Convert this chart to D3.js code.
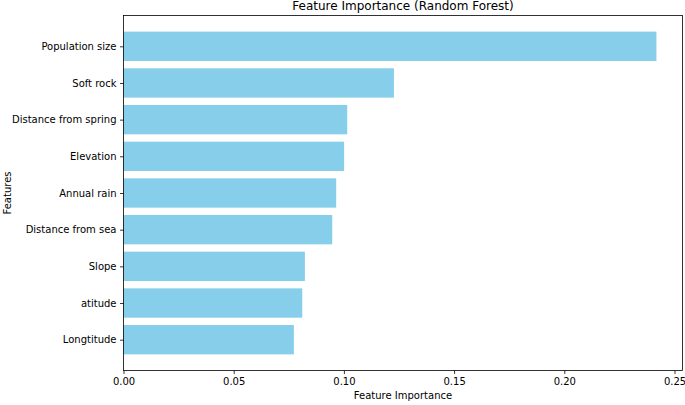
<!DOCTYPE html>
<html><head><meta charset="utf-8">
<script src="https://cdn.jsdelivr.net/npm/d3@7"></script>
<style>body{margin:0;background:#fff}svg{display:block;font-family:"DejaVu Sans",sans-serif}</style>
</head><body><svg id="c" width="685" height="405"></svg>
<script>
const features = ["Population size","Soft rock","Distance from spring","Elevation","Annual rain","Distance from sea","Slope","atitude","Longtitude"];
const importances = [0.2418,0.1227,0.1015,0.1001,0.0965,0.0947,0.0823,0.0811,0.0773];
const xTicks = [0,0.05,0.10,0.15,0.20,0.25];

const svg = d3.select("#c");
const L=123.5, R=682.5, T=15.5, B=370.5;
const x = d3.scaleLinear().domain([0,0.25]).range([L, L+0.25*2204]);
// matplotlib-like categorical: index 0 at top
const n = features.length;
const y = d3.scaleLinear().domain([-0.4-0.44, n-1+0.4+0.44]).range([T,B]);

const g = svg.append("g");
g.selectAll("rect").data(features).join("rect")
  .attr("x", x(0))
  .attr("y", (d,i)=>y(i-0.4))
  .attr("width", (d,i)=>x(importances[i])-x(0))
  .attr("height", (d,i)=>y(i+0.4)-y(i-0.4))
  .attr("fill","#87CEEB");

// frame
svg.append("rect").attr("x",L).attr("y",T).attr("width",R-L).attr("height",B-T)
  .attr("fill","none").attr("stroke","#000").attr("stroke-width",0.8);

// x axis
const xa = svg.append("g").attr("transform",`translate(0,${B})`)
  .call(d3.axisBottom(x).tickValues(xTicks).tickFormat(d3.format(".2f")).tickSize(3.5).tickPadding(3.5));
xa.select(".domain").remove();
xa.selectAll("text").attr("font-size",10).attr("fill","#000").attr("font-family","DejaVu Sans");
xa.selectAll("line").attr("stroke","#000").attr("stroke-width",0.8);

// y axis
const ya = svg.append("g").attr("transform",`translate(${L},0)`)
  .call(d3.axisLeft(y).tickValues(d3.range(n)).tickFormat(i=>features[i]).tickSize(3.5).tickPadding(3.5));
ya.select(".domain").remove();
ya.selectAll("text").attr("font-size",10).attr("fill","#000").attr("font-family","DejaVu Sans");
ya.selectAll("line").attr("stroke","#000").attr("stroke-width",0.8);

svg.append("text").attr("x",(L+R)/2).attr("y",10).attr("text-anchor","middle")
  .attr("font-size",12).text("Feature Importance (Random Forest)");
svg.append("text").attr("x",(L+R)/2).attr("y",399).attr("text-anchor","middle")
  .attr("font-size",10).text("Feature Importance");
svg.append("text").attr("transform",`translate(11,${(T+B)/2}) rotate(-90)`).attr("text-anchor","middle")
  .attr("font-size",10).text("Features");
</script></body></html>
